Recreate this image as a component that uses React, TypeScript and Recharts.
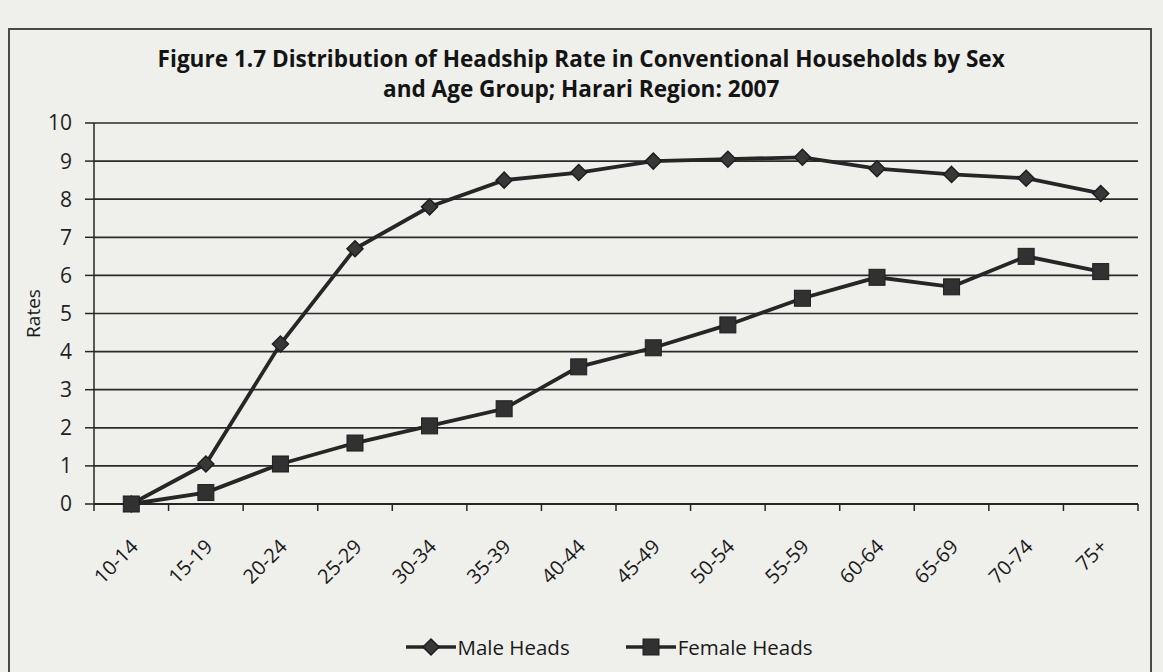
import React from 'react';
import { LineChart, Line, XAxis, YAxis, CartesianGrid, Legend } from 'recharts';

const categories = ['10-14', '15-19', '20-24', '25-29', '30-34', '35-39', '40-44', '45-49', '50-54', '55-59', '60-64', '65-69', '70-74', '75+'];
const maleHeads = [0, 1.05, 4.2, 6.7, 7.8, 8.5, 8.7, 9.0, 9.05, 9.1, 8.8, 8.65, 8.55, 8.15];
const femaleHeads = [0, 0.3, 1.05, 1.6, 2.05, 2.5, 3.6, 4.1, 4.7, 5.4, 5.95, 5.7, 6.5, 6.1];
const yTicks = [0, 1, 2, 3, 4, 5, 6, 7, 8, 9, 10];
const titleLines = [
  'Figure 1.7 Distribution of Headship Rate in Conventional Households by Sex',
  'and Age Group; Harari Region: 2007',
];
const seriesNames = ['Male Heads', 'Female Heads'];
const yAxisTitle = 'Rates';

const data = categories.map((c, i) => ({ age: c, male: maleHeads[i], female: femaleHeads[i] }));

const W = 1163;
const H = 672;
const MARGIN = { top: 123, right: 25, left: 14, bottom: 10 };
const Y_AXIS_W = 80;
const X_AXIS_H = 128;
const PLOT_W = W - MARGIN.left - MARGIN.right - Y_AXIS_W;
const BAND = PLOT_W / categories.length;
const FONT = '"Open Sans", "Noto Sans", sans-serif';
const INK = '#262626';
const BG = '#efefec';

const Diamond = (props: any) => {
  const { cx, cy } = props;
  if (cx == null || cy == null) return null;
  const r = 8;
  return (
    <polygon
      points={`${cx},${cy - r} ${cx + r},${cy} ${cx},${cy + r} ${cx - r},${cy}`}
      fill="#383838"
      stroke="#1e1e1e"
      strokeWidth={1.5}
    />
  );
};

const Square = (props: any) => {
  const { cx, cy } = props;
  if (cx == null || cy == null) return null;
  const s = 16;
  return <rect x={cx - s / 2} y={cy - s / 2} width={s} height={s} fill="#313131" stroke="#1e1e1e" strokeWidth={1} />;
};

const XTick = (props: any) => {
  const { x, y, payload, index } = props;
  const last = index === categories.length - 1;
  return (
    <g>
      <line x1={x - BAND / 2} y1={y} x2={x - BAND / 2} y2={y + 7} stroke={INK} strokeWidth={1.5} />
      {last && <line x1={x + BAND / 2} y1={y} x2={x + BAND / 2} y2={y + 7} stroke={INK} strokeWidth={1.5} />}
      <text
        transform={`translate(${x + 8},${y + 44}) rotate(-45)`}
        textAnchor="end"
        fontSize={20}
        fontFamily={FONT}
        fill="#1a1a1a"
      >
        {payload.value}
      </text>
    </g>
  );
};

const LegendIcon = ({ kind }: { kind: string }) => (
  <svg width={50} height={24} style={{ display: 'block' }}>
    <line x1={0} y1={12} x2={50} y2={12} stroke={INK} strokeWidth={3.5} />
    {kind === 'diamond' ? <Diamond cx={25} cy={12} /> : <Square cx={25} cy={12} />}
  </svg>
);

const LegendContent = (props: any) => {
  const items = [...(props.payload || [])].sort(
    (a: any, b: any) => seriesNames.indexOf(a.value) - seriesNames.indexOf(b.value)
  );
  return (
    <div
      style={{
        height: 30,
        display: 'flex',
        justifyContent: 'center',
        alignItems: 'center',
        paddingLeft: 66,
        gap: 56,
        fontFamily: FONT,
        fontSize: 20.5,
        color: '#1a1a1a',
      }}
    >
      {items.map((p: any) => (
        <div key={p.value} style={{ display: 'flex', alignItems: 'center' }}>
          <LegendIcon kind={p.dataKey === 'male' ? 'diamond' : 'square'} />
          <span style={{ marginLeft: 2 }}>{p.value}</span>
        </div>
      ))}
    </div>
  );
};

const RatesLabel = (props: any) => {
  const { viewBox } = props;
  const x = viewBox.x + 19;
  const y = viewBox.y + viewBox.height / 2;
  return (
    <text x={x} y={y} transform={`rotate(-90, ${x}, ${y})`} textAnchor="middle" dominantBaseline="central" fontSize={19} fontFamily={FONT} fill="#1a1a1a">
      {yAxisTitle}
    </text>
  );
};

export default function App() {
  return (
    <div style={{ position: 'absolute', left: 0, top: 0, width: W, height: H, background: BG, overflow: 'hidden' }}>
      <style>{'body{margin:0}'}</style>
      <div style={{ position: 'absolute', left: 8, top: 28, width: 1140, height: 700, border: '2px solid #4a4a4a' }} />
      <div
        style={{
          position: 'absolute',
          top: 43,
          left: 0,
          width: W,
          textAlign: 'center',
          fontFamily: FONT,
          fontWeight: 700,
          fontSize: 24,
          lineHeight: '30px',
          color: '#141414',
        }}
      >
        {titleLines.map((t) => (
          <div key={t} style={{ transform: 'scaleX(0.94)', transformOrigin: '576px 0', whiteSpace: 'nowrap' }}>
            {t}
          </div>
        ))}
      </div>
      <div style={{ position: 'absolute', left: 0, top: 0 }}>
        <LineChart width={W} height={H} data={data} margin={MARGIN}>
          <CartesianGrid vertical={false} stroke="#2a2a2a" strokeWidth={1.7} />
          <XAxis
            dataKey="age"
            scale="band"
            interval={0}
            height={X_AXIS_H}
            tickLine={false}
            tickSize={0}
            tickMargin={0}
            tick={<XTick />}
            axisLine={{ stroke: INK, strokeWidth: 1.8 }}
          />
          <YAxis
            domain={[0, 10]}
            ticks={yTicks}
            interval={0}
            width={Y_AXIS_W}
            tickSize={9}
            tickMargin={13}
            tickLine={{ stroke: INK, strokeWidth: 1.5 }}
            axisLine={{ stroke: INK, strokeWidth: 1.5 }}
            tick={{ fontSize: 21, fill: '#1f1f1f', fontFamily: FONT }}
            label={<RatesLabel />}
          />
          <Legend verticalAlign="bottom" content={<LegendContent />} />
          <Line
            type="linear"
            dataKey="male"
            name={seriesNames[0]}
            stroke={INK}
            strokeWidth={3.8}
            dot={<Diamond />}
            activeDot={false}
            isAnimationActive={false}
          />
          <Line
            type="linear"
            dataKey="female"
            name={seriesNames[1]}
            stroke={INK}
            strokeWidth={3.8}
            dot={<Square />}
            activeDot={false}
            isAnimationActive={false}
          />
        </LineChart>
      </div>
    </div>
  );
}
